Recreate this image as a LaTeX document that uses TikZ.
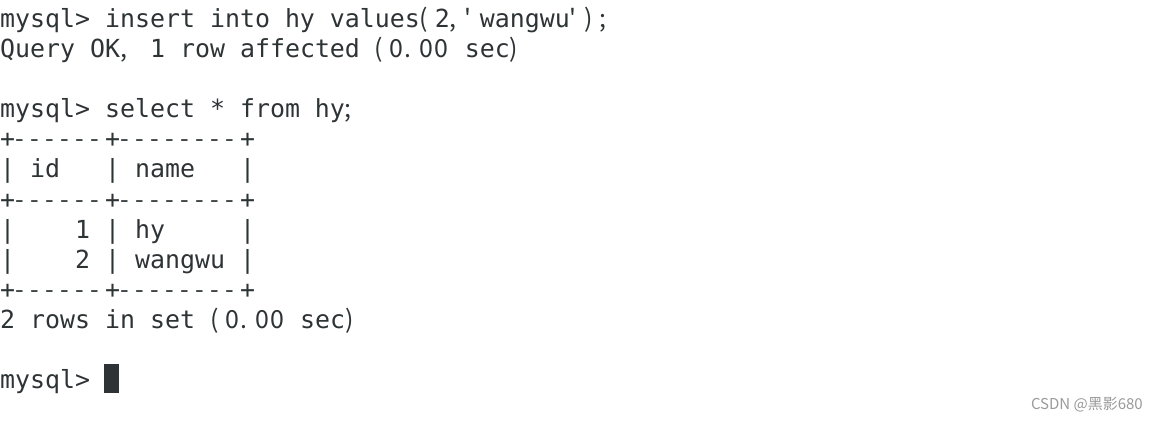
\documentclass[tikz,border=0pt]{standalone}
\usepackage{fontspec}
\usepackage{tikz}
\newfontfamily\term{DejaVu Sans Mono}
\newfontfamily\cjk{Noto Sans CJK SC}
\definecolor{termfg}{HTML}{2E3436}
\definecolor{markgray}{HTML}{9A9A9A}
% one terminal cell, punctuation set flush left
\newcommand\pc[1]{\makebox[15pt][l]{\cjk #1}}
\newcommand\dashes[1]{\foreach \i in {1,...,#1}{\pc{-}}}
\newcommand\secs{\pc{(}\pc{0}\pc{.}\pc{0}\pc{0} sec\pc{)}}

\begin{document}
\begin{tikzpicture}[x=1pt,y=1pt,
    line/.style={anchor=base west,inner sep=0pt,text=termfg,
      font=\term\fontsize{24.9}{30}\selectfont},
    wmark/.style={anchor=base east,inner sep=0pt,text=markgray,
      font=\cjk\fontsize{15}{16}\selectfont}]
        % page
        \fill[white](0,0)rectangle(1159,-422);
        \useasboundingbox(0,0)rectangle(1159,-422);

        % insert
        \node[line] (ins) at (0,-28){mysql> insert into hy values\pc{(}2\pc{,}\pc{'}wangwu\pc{'}\pc{)}\pc{;}};
        \node[line] (ok) at (0,-58){Query OK\pc{,} 1 row affected \secs};

        % select
        \node[line] (sel) at (0,-118){mysql> select * from hy\pc{;}};
        \node[line] (top) at (0,-148){+\dashes{6}+\dashes{8}+};
        \node[line] (head) at (0,-178){|~id~~~|~name~~~|};
        \node[line] (mid) at (0,-208){+\dashes{6}+\dashes{8}+};
        \node[line] (rowa) at (0,-238){|~~~~1~|~hy~~~~~|};
        \node[line] (rowb) at (0,-268){|~~~~2~|~wangwu~|};
        \node[line] (bot) at (0,-298){+\dashes{6}+\dashes{8}+};
        \node[line] (rows) at (0,-328){2 rows in set \secs};

        % prompt
        \node[line] (prompt) at (0,-388){mysql>};
        \fill[termfg](104,-364)rectangle(119,-393);

        % watermark
        \node[wmark] (csdn) at (1143,-409){CSDN @黑影680};
    \end{tikzpicture}
\end{document}
